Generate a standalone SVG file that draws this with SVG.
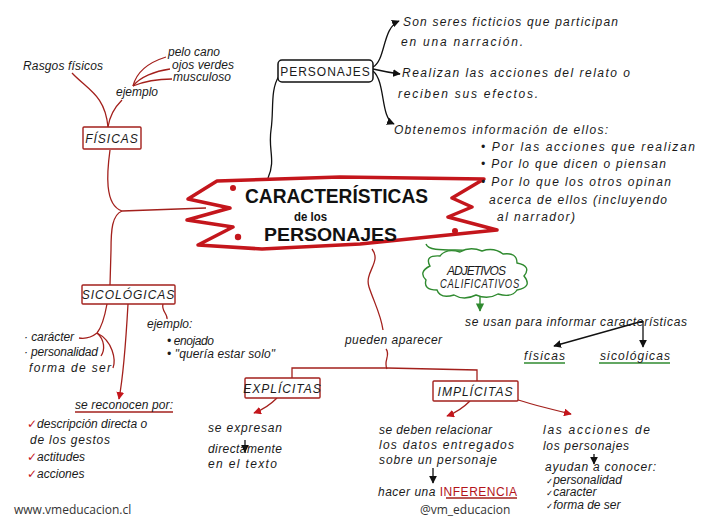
<svg xmlns="http://www.w3.org/2000/svg" width="715" height="517" viewBox="0 0 715 517">
<defs>
<style>
.hw{font-family:"Liberation Sans","DejaVu Sans",sans-serif;font-style:italic;font-size:12px;fill:#1a1a1a}
.lb{font-family:"Liberation Sans","DejaVu Sans",sans-serif;font-size:12px;fill:#1a1a1a;letter-spacing:1px}
.ttl{font-family:"Liberation Sans","DejaVu Sans",sans-serif;font-weight:bold;fill:#111}
.web{font-family:"Open Sans","Liberation Sans",sans-serif;font-size:12px;fill:#333}
.red{stroke:#a3201c;fill:none;stroke-width:1.3}
.blk{stroke:#111;fill:none;stroke-width:1.3}
.grn{stroke:#2f8a2f;fill:none;stroke-width:1.4}
.rbox{stroke:#a3201c;fill:#fff;stroke-width:1.4}
.chk{fill:#c4161c;font-style:normal;font-family:"DejaVu Sans",sans-serif}
.chkb{fill:#111;font-style:normal;font-family:"DejaVu Sans",sans-serif;font-size:8.5px}
</style>
<marker id="ar" viewBox="0 0 10 10" refX="9" refY="5" markerWidth="6" markerHeight="6" orient="auto"><path d="M0,0 L10,5 L0,10 z" fill="#c4161c"/></marker>
<marker id="ab" viewBox="0 0 10 10" refX="9" refY="5" markerWidth="6" markerHeight="6" orient="auto"><path d="M0,0 L10,5 L0,10 z" fill="#111"/></marker>
<marker id="ag" viewBox="0 0 10 10" refX="9" refY="5" markerWidth="6" markerHeight="6" orient="auto"><path d="M0,0 L10,5 L0,10 z" fill="#2f8a2f"/></marker>
</defs>
<rect width="715" height="517" fill="#fff"/>

<g id="connectors">
<path class="blk" d="M279,76 C270,90 274,110 271,130 C268,150 276,160 268,178"/>
<path class="blk" d="M373,67 C386,60 382,28 399,21" marker-end="url(#ab)"/>
<path class="blk" d="M373,69 Q386,72 400,74" marker-end="url(#ab)"/>
<path class="blk" d="M373,71 C386,82 380,118 394,124" marker-end="url(#ab)"/>
<path class="red" d="M72,73 C88,90 105,95 108,127"/>
<path class="red" d="M108,127 C110,113 117,105 122,100"/>
<path class="red" d="M133,86 C137,70 150,62 166,57"/>
<path class="red" d="M133,86 C140,77 155,71 170,69"/>
<path class="red" d="M133,86 C145,81 160,79 172,79"/>
<path class="red" d="M110,150 C107,172 104,205 122,211 L206,208"/>
<path class="red" d="M122,211 C112,215 111,230 111,250 L110,285"/>
<path class="red" d="M163,304 C161,311 168,314 167,319"/>
<path class="red" d="M107,304 C105,315 101,328 97,333 C92,337 85,339 79,338"/>
<path class="red" d="M97,333 C105,340 105,350 101,356"/>
<path class="red" d="M97,333 C113,341 116,360 113,368"/>
<path class="red" d="M128,304 C126,340 124,372 119,399" marker-end="url(#ar)"/>
<path class="red" d="M75,412 L173,412"/>
<path class="red" d="M372,249 C382,262 364,272 369,287 C374,302 381,315 383,330"/>
<path class="red" d="M386,349 C391,355 383,361 387,369"/>
<path class="red" d="M292,380 L292,368 L387,368 L477,370 L477,382"/>
<path class="red" d="M277,398 C270,405 262,410 254,413" marker-end="url(#ar)"/>
<path class="red" d="M470,401 C463,408 455,413 447,416" marker-end="url(#ar)"/>
<path class="red" d="M512,398 C530,404 550,409 571,414" marker-end="url(#ar)"/>
<path class="blk" d="M245,440 L245,452" marker-end="url(#ab)"/>
<path class="blk" d="M433,468 L433,483" marker-end="url(#ab)"/>
<path class="blk" d="M594,454 L594,464" marker-end="url(#ab)"/>
<path class="grn" d="M426,244 C428,250 440,250 455,250 C466,250 472,250 474,252"/>
<path class="grn" d="M480,294 L480,311" marker-end="url(#ag)"/>
<path class="blk" d="M643,321 C612,330 582,338 554,346" marker-end="url(#ab)"/>
<path class="blk" d="M643,321 L643,347" marker-end="url(#ab)"/>
<path class="grn" d="M524,363 L565,363"/>
<path class="grn" d="M599,363 L670,363"/>
<path class="red" d="M446,498 L517,498"/>
</g>

<g id="title">
<path d="M217,181 L340,177 L484,179 L452,198 L472,207 L448,217 L497,230 L360,244 L262,249 L198,245 L233,227 L187,220 L230,208 L188,199 Z" fill="#fff" stroke="#c4161c" stroke-width="3.5" stroke-linejoin="round"/>
<circle cx="233" cy="188" r="3" fill="#c4161c"/>
<circle cx="238" cy="237" r="3.2" fill="#c4161c"/>
<circle cx="455" cy="231" r="3" fill="#c4161c"/>
<text class="ttl" x="245" y="203" font-size="21" textLength="183" lengthAdjust="spacingAndGlyphs">CARACTERÍSTICAS</text>
<text class="ttl" x="294" y="221" font-size="12" font-weight="normal" textLength="33" lengthAdjust="spacingAndGlyphs">de los</text>
<text class="ttl" x="264" y="241" font-size="19" font-weight="normal" textLength="133" lengthAdjust="spacingAndGlyphs">PERSONAJES</text>
</g>

<g id="personajes">
<rect x="278" y="60" width="95" height="22" rx="4" fill="#fff" stroke="#111" stroke-width="1.5"/>
<text class="lb" x="325.5" y="76" text-anchor="middle" font-size="13">PERSONAJES</text>
</g>
<g id="def1">
<text class="hw" x="403" y="26" font-size="13" textLength="215" lengthAdjust="spacing">Son seres ficticios que participan</text>
<text class="hw" x="401" y="46" font-size="13" textLength="122" lengthAdjust="spacing">en una narración.</text>
</g>
<g id="def2">
<text class="hw" x="402" y="77" font-size="13" textLength="228" lengthAdjust="spacing">Realizan las acciones del relato o</text>
<text class="hw" x="398" y="98" font-size="13" textLength="140" lengthAdjust="spacing">reciben sus efectos.</text>
</g>
<g id="def3">
<text class="hw" x="394" y="134" font-size="13" textLength="214" lengthAdjust="spacing">Obtenemos información de ellos:</text>
<text class="hw" x="481" y="151" font-size="13" textLength="214" lengthAdjust="spacing">• Por las acciones que realizan</text>
<text class="hw" x="481" y="168" font-size="13" textLength="185" lengthAdjust="spacing">• Por lo que dicen o piensan</text>
<text class="hw" x="481" y="186" font-size="13" textLength="190" lengthAdjust="spacing">• Por lo que los otros opinan</text>
<text class="hw" x="489" y="204" font-size="13" textLength="178" lengthAdjust="spacing">acerca de ellos (incluyendo</text>
<text class="hw" x="497" y="221" font-size="13" textLength="78" lengthAdjust="spacing">al narrador)</text>
</g>

<g id="fisicas">
<rect class="rbox" x="83" y="127" width="58" height="22" rx="1"/>
<text class="lb" x="112" y="143" text-anchor="middle" font-style="italic">FÍSICAS</text>
</g>
<g id="rasgos"><text class="hw" x="23" y="70" textLength="80" lengthAdjust="spacing">Rasgos físicos</text></g>
<g id="ejemplo1"><text class="hw" x="116" y="96" font-size="10">ejemplo</text></g>
<g id="ejemplos1">
<text class="hw" x="168" y="56" font-size="10.5" textLength="52" lengthAdjust="spacing">pelo cano</text>
<text class="hw" x="172" y="68.5" font-size="10.5" textLength="62" lengthAdjust="spacing">ojos verdes</text>
<text class="hw" x="173" y="81" font-size="10.5" textLength="58" lengthAdjust="spacing">musculoso</text>
</g>

<g id="sicologicas">
<rect class="rbox" x="82" y="285" width="93" height="19" rx="1"/>
<text class="lb" x="128.5" y="299" text-anchor="middle" font-size="11" font-style="italic">SICOLÓGICAS</text>
</g>
<g id="ejemplo2">
<text class="hw" x="147" y="328" font-size="10">ejemplo:</text>
<text class="hw" x="167" y="345" font-size="11" textLength="47" lengthAdjust="spacing">• enojado</text>
<text class="hw" x="167" y="358" font-size="11" textLength="108" lengthAdjust="spacing">• "quería estar solo"</text>
</g>
<g id="rasgos2">
<text class="hw" x="24" y="341" font-size="11" textLength="50" lengthAdjust="spacing">· carácter</text>
<text class="hw" x="24" y="356" font-size="11" textLength="74" lengthAdjust="spacing">· personalidad</text>
<text class="hw" x="29" y="372" font-size="11" textLength="82" lengthAdjust="spacing">forma de ser</text>
</g>
<g id="reconocen">
<text class="hw" x="75" y="409" font-size="11" textLength="98" lengthAdjust="spacing">se reconocen por:</text>
<text class="hw" x="27" y="428" font-size="13"><tspan class="chk">✓</tspan><tspan>descripción directa o</tspan></text>
<text class="hw" x="30" y="444" font-size="13" textLength="80" lengthAdjust="spacing">de los gestos</text>
<text class="hw" x="27" y="461" font-size="13"><tspan class="chk">✓</tspan><tspan>actitudes</tspan></text>
<text class="hw" x="27" y="478" font-size="13"><tspan class="chk">✓</tspan><tspan>acciones</tspan></text>
</g>

<g id="pueden"><text class="hw" x="345" y="344" textLength="97" lengthAdjust="spacing">pueden aparecer</text></g>

<g id="explicitas">
<rect class="rbox" x="245" y="378" width="75" height="20" rx="1"/>
<text class="lb" x="282.5" y="393" text-anchor="middle" font-size="11" font-style="italic">EXPLÍCITAS</text>
</g>
<g id="expresan">
<text class="hw" x="208" y="432" textLength="74" lengthAdjust="spacing">se expresan</text>
<text class="hw" x="208" y="453" textLength="74" lengthAdjust="spacing">directamente</text>
<text class="hw" x="208" y="468" textLength="69" lengthAdjust="spacing">en el texto</text>
</g>

<g id="implicitas">
<rect class="rbox" x="433" y="381" width="85" height="20" rx="1"/>
<text class="lb" x="475.5" y="396" text-anchor="middle" font-size="11" font-style="italic">IMPLÍCITAS</text>
</g>
<g id="relacionar">
<text class="hw" x="379" y="434" font-size="11" textLength="113" lengthAdjust="spacing">se deben relacionar</text>
<text class="hw" x="379" y="449" textLength="135" lengthAdjust="spacing">los datos entregados</text>
<text class="hw" x="379" y="464" font-size="11" textLength="118" lengthAdjust="spacing">sobre un personaje</text>
<text class="hw" x="378" y="496" font-size="11" textLength="139" lengthAdjust="spacing">hacer una <tspan fill="#b3141a" font-style="normal">INFERENCIA</tspan></text>
</g>
<g id="acciones">
<text class="hw" x="543" y="434" textLength="107" lengthAdjust="spacing">las acciones de</text>
<text class="hw" x="543" y="450" textLength="86" lengthAdjust="spacing">los personajes</text>
<text class="hw" x="545" y="471" font-size="10" textLength="111" lengthAdjust="spacing">ayudan a conocer:</text>
<text class="hw" x="546" y="483.5" font-size="9.5"><tspan class="chkb">✓</tspan><tspan>personalidad</tspan></text>
<text class="hw" x="546" y="496" font-size="9.5"><tspan class="chkb">✓</tspan><tspan>caracter</tspan></text>
<text class="hw" x="546" y="508.5" font-size="9.5"><tspan class="chkb">✓</tspan><tspan>forma de ser</tspan></text>
</g>

<g id="adjetivos">
<path d="M430,266 Q424,255 440,256 Q446,248 460,252 Q470,246 482,251 Q494,247 503,254 Q517,252 517,263 Q532,266 524,276 Q533,287 517,290 Q512,298 498,294 Q488,300 476,295 Q464,301 454,295 Q440,299 437,290 Q423,290 426,280 Q418,272 430,266 Z" fill="#fff" stroke="#2f8a2f" stroke-width="1.4"/>
<text class="lb" x="447" y="275" font-size="10" font-style="italic" letter-spacing="0" textLength="60" lengthAdjust="spacing">ADJETIVOS</text>
<text class="lb" x="440" y="288" font-size="10" font-style="italic" letter-spacing="0" textLength="80" lengthAdjust="spacingAndGlyphs">CALIFICATIVOS</text>
</g>
<g id="usan"><text class="hw" x="465" y="326" font-size="11" textLength="222" lengthAdjust="spacing">se usan para informar características</text></g>
<g id="fisicas2"><text class="hw" x="524" y="360" font-size="11" textLength="41" lengthAdjust="spacing">físicas</text></g>
<g id="sicologicas2"><text class="hw" x="600" y="360" font-size="11" textLength="70" lengthAdjust="spacing">sicológicas</text></g>

<g id="credits">
<text class="web" x="14" y="514">www.vmeducacion.cl</text>
<text class="web" x="420" y="514">@vm_educacion</text>
</g>
</svg>
